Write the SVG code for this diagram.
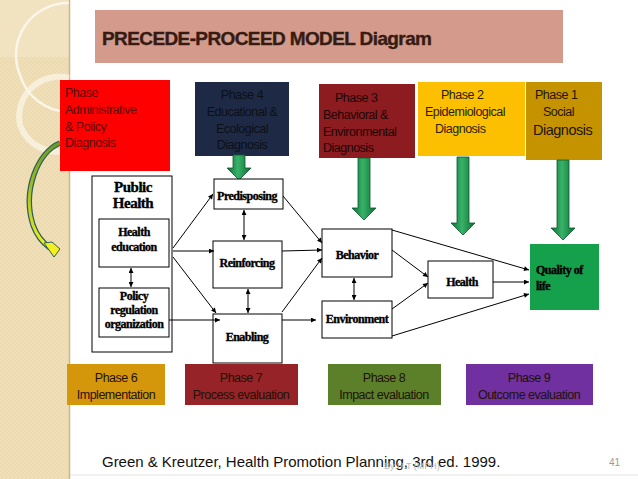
<svg xmlns="http://www.w3.org/2000/svg" width="638" height="479" viewBox="0 0 638 479">
<defs>
<style>
.ph{font-family:"Liberation Sans",Arial,sans-serif;font-size:12.5px;letter-spacing:-0.5px;fill:#1e1208}
.phc{text-anchor:middle}
.nd{font-family:"Liberation Serif","Times New Roman",serif;font-weight:bold;font-size:12px;letter-spacing:-0.5px;fill:#000;stroke:#000;stroke-width:0.35;text-anchor:middle}
.box{fill:#fff;stroke:#000;stroke-width:1}
.ln{stroke:#000;stroke-width:1;fill:none;marker-end:url(#ah)}
.dl{stroke:#000;stroke-width:1;fill:none;marker-end:url(#ah);marker-start:url(#ahs)}
.garrow{fill:url(#gg);stroke:#0b5a2c;stroke-width:0.8}
</style>
<marker id="ah" viewBox="0 0 10 10" refX="10" refY="5" markerWidth="6" markerHeight="5" orient="auto" markerUnits="userSpaceOnUse"><path d="M0,0 L10,5 L0,10 z" fill="#000"/></marker>
<marker id="ahs" viewBox="0 0 10 10" refX="0" refY="5" markerWidth="6" markerHeight="5" orient="auto" markerUnits="userSpaceOnUse"><path d="M10,0 L0,5 L10,10 z" fill="#000"/></marker>
<linearGradient id="gg" x1="0" y1="0" x2="1" y2="0">
<stop offset="0" stop-color="#0f6b35"/><stop offset="0.45" stop-color="#37b368"/><stop offset="1" stop-color="#0f6b35"/>
</linearGradient>
<linearGradient id="cg" x1="0" y1="0" x2="0" y2="1">
<stop offset="0" stop-color="#6a9a2a"/><stop offset="1" stop-color="#f0f020"/>
</linearGradient>
<pattern id="bg" width="4" height="4" patternUnits="userSpaceOnUse"><rect width="4" height="4" fill="#f0dfb6"/><path d="M0,4 L4,0" stroke="#e8d4a8" stroke-width="0.7"/></pattern>
</defs>
<rect width="638" height="479" fill="#fff"/>
<!-- left decorative strip -->
<g id="decor">
<rect x="0" y="0" width="69" height="479" fill="url(#bg)"/>
<rect x="0" y="0" width="69" height="57" fill="#f4e8c8" opacity="0.6"/>
<line x1="69.5" y1="0" x2="69.5" y2="479" stroke="#c9b58e" stroke-width="1.5"/>
<path d="M69,3 A52,52 0 0 0 20,75 A52,52 0 0 0 69,112" fill="none" stroke="#fbf6ea" stroke-width="2.5"/>
<path d="M69,78 A40,40 0 0 0 20,125 A40,40 0 0 0 69,150" fill="none" stroke="#fbf6ea" stroke-width="6" opacity="0.7"/>
<path d="M60,143 C38,152 22,190 33,225 C37,236 43,243 50,248" fill="none" stroke="#2e5e5a" stroke-width="5.5"/>
<path d="M60,143 C38,152 22,190 33,225 C37,236 43,243 50,248" fill="none" stroke="url(#cg)" stroke-width="3"/>
<path d="M44,243 L52,242 L60,249 L54,257 Z" fill="#f2f01e" stroke="#2e5e5a" stroke-width="1"/>
<line x1="70" y1="475" x2="638" y2="475" stroke="#e2e2e2" stroke-width="1"/>
</g>
<!-- title -->
<g id="title">
<rect x="95" y="10" width="468" height="53" fill="#d49a8b"/>
<text x="103" y="46" font-family="'Liberation Sans',Arial,sans-serif" font-weight="bold" font-size="19" fill="#c4a69e" textLength="330">PRECEDE-PROCEED MODEL Diagram</text>
<text x="102" y="45" font-family="'Liberation Sans',Arial,sans-serif" font-weight="bold" font-size="19" fill="#3a1a10" stroke="#3a1a10" stroke-width="0.4" textLength="330">PRECEDE-PROCEED MODEL Diagram</text>
</g>
<!-- top phase boxes -->
<g id="phase5">
<rect x="60" y="80" width="110" height="91" fill="#ff0000"/>
<text class="ph" style="fill:#5a0a0a"><tspan x="65" y="97">Phase</tspan><tspan x="65" y="114">Administrative</tspan><tspan x="65" y="131">&amp; Policy</tspan><tspan x="65" y="147">Diagnosis</tspan></text>
</g>
<g id="phase4">
<rect x="195" y="82" width="94" height="74" fill="#1e2a45"/>
<text class="ph phc" style="fill:#0c0f18"><tspan x="242" y="99">Phase 4</tspan><tspan x="242" y="116">Educational &amp;</tspan><tspan x="242" y="133">Ecological</tspan><tspan x="242" y="149">Diagnosis</tspan></text>
</g>
<g id="phase3">
<rect x="319" y="84" width="96" height="74" fill="#8c1c20"/>
<text class="ph" style="fill:#1c0606"><tspan x="335" y="102">Phase 3</tspan><tspan x="323" y="119">Behavioral &amp;</tspan><tspan x="323" y="136">Environmental</tspan><tspan x="323" y="152">Diagnosis</tspan></text>
</g>
<g id="phase2">
<rect x="418" y="82" width="107" height="74" fill="#fdc000"/>
<text class="ph" style="fill:#2a1e00"><tspan x="441" y="99">Phase 2</tspan><tspan x="425" y="116">Epidemiological</tspan><tspan x="435" y="133">Diagnosis</tspan></text>
</g>
<g id="phase1">
<rect x="526" y="82" width="76" height="78" fill="#c69300"/>
<text class="ph" style="fill:#1e1400"><tspan x="535" y="99">Phase 1</tspan><tspan x="543" y="116">Social</tspan></text>
<text class="ph" x="533" y="135" style="font-size:14.5px;fill:#1e1400">Diagnosis</text>
</g>
<!-- green down arrows -->
<g id="down-arrows">
<path class="garrow" d="M233,155 L245,155 L245,168 L251,168 L239,180 L227,168 L233,168 Z"/>
<path class="garrow" d="M358,158 L370,158 L370,208 L376,208 L364,220 L352,208 L358,208 Z"/>
<path class="garrow" d="M457,157 L469,157 L469,223 L475,223 L463,235 L451,223 L457,223 Z"/>
<path class="garrow" d="M557,160 L569,160 L569,228 L575,228 L563,240 L551,228 L557,228 Z"/>
</g>
<!-- nodes -->
<g id="public-health">
<rect class="box" x="92" y="176" width="80" height="176"/>
<text class="nd" style="font-size:15px"><tspan x="133" y="192">Public</tspan><tspan x="133" y="208">Health</tspan></text>
</g>
<g id="health-education">
<rect class="box" x="99" y="219" width="70" height="48"/>
<text class="nd"><tspan x="134" y="236">Health</tspan><tspan x="134" y="251">education</tspan></text>
</g>
<g id="policy">
<rect class="box" x="99" y="288" width="70" height="49"/>
<text class="nd"><tspan x="134" y="300">Policy</tspan><tspan x="134" y="314">regulation</tspan><tspan x="134" y="328">organization</tspan></text>
</g>
<g id="predisposing">
<rect class="box" x="214" y="179" width="69" height="30"/>
<text class="nd" x="247" y="200">Predisposing</text>
</g>
<g id="reinforcing">
<rect class="box" x="213" y="241" width="69" height="47"/>
<text class="nd" x="247" y="267">Reinforcing</text>
</g>
<g id="enabling">
<rect class="box" x="213" y="314" width="69" height="49"/>
<text class="nd" x="247" y="341">Enabling</text>
</g>
<g id="behavior">
<rect class="box" x="322" y="229" width="70" height="48"/>
<text class="nd" x="357" y="259">Behavior</text>
</g>
<g id="environment">
<rect class="box" x="322" y="301" width="70" height="37"/>
<text class="nd" x="357" y="323">Environment</text>
</g>
<g id="health">
<rect class="box" x="428" y="261" width="65" height="37"/>
<text class="nd" x="462" y="286">Health</text>
</g>
<g id="quality-of-life">
<rect x="530" y="244" width="69" height="66" fill="#15a04c"/>
<text class="nd" style="text-anchor:start"><tspan x="536" y="274">Quality  of</tspan><tspan x="536" y="290">life</tspan></text>
</g>
<!-- connectors -->
<g id="connectors">
<line class="ln" x1="173" y1="248" x2="213" y2="194"/>
<line class="ln" x1="173" y1="251" x2="214" y2="251"/>
<line class="ln" x1="173" y1="257" x2="216" y2="313"/>
<line class="ln" x1="169" y1="320" x2="220" y2="320"/>
<line class="ln" x1="283" y1="196" x2="322" y2="243"/>
<line class="ln" x1="282" y1="251" x2="322" y2="250"/>
<line class="ln" x1="282" y1="312" x2="322" y2="258"/>
<line class="ln" x1="282" y1="320" x2="316" y2="320"/>
<line class="ln" x1="392" y1="230" x2="529" y2="270"/>
<line class="ln" x1="392" y1="250" x2="428" y2="277"/>
<line class="ln" x1="392" y1="309" x2="428" y2="283"/>
<line class="ln" x1="493" y1="282" x2="529" y2="282"/>
<line class="ln" x1="392" y1="336" x2="529" y2="294"/>
<line class="dl" x1="131" y1="268" x2="131" y2="287"/>
<line class="dl" x1="244" y1="210" x2="244" y2="240"/>
<line class="dl" x1="248" y1="289" x2="248" y2="313"/>
<line class="dl" x1="354" y1="278" x2="354" y2="300"/>
</g>
<!-- bottom phase boxes -->
<g id="phase6">
<rect x="67" y="364" width="98" height="41" fill="#d4960a"/>
<text class="ph phc"><tspan x="116" y="382">Phase 6</tspan><tspan x="116" y="399">Implementation</tspan></text>
</g>
<g id="phase7">
<rect x="185" y="364" width="113" height="41" fill="#962327"/>
<text class="ph phc"><tspan x="241" y="382">Phase 7</tspan><tspan x="241" y="399">Process evaluation</tspan></text>
</g>
<g id="phase8">
<rect x="328" y="364" width="113" height="41" fill="#5c7f2a"/>
<text class="ph phc"><tspan x="384" y="382">Phase 8</tspan><tspan x="384" y="399">Impact evaluation</tspan></text>
</g>
<g id="phase9">
<rect x="466" y="364" width="127" height="41" fill="#7030a0"/>
<text class="ph phc"><tspan x="529" y="382">Phase 9</tspan><tspan x="529" y="399">Outcome evaluation</tspan></text>
</g>
<!-- footer -->
<g id="footer">
<text x="102" y="467" font-family="'Liberation Sans',Arial,sans-serif" font-size="15" fill="#111" textLength="398" letter-spacing="-0.3">Green &amp; Kreutzer, Health Promotion Planning, 3rd ed. 1999.</text>
<text x="384" y="469" font-family="'Liberation Sans',Arial,sans-serif" font-size="9" fill="#b8b8b8">By:H.T (MPH)</text>
<text x="609" y="466" font-family="'Liberation Sans',Arial,sans-serif" font-size="10" fill="#9a9a9a">41</text>
</g>
</svg>
